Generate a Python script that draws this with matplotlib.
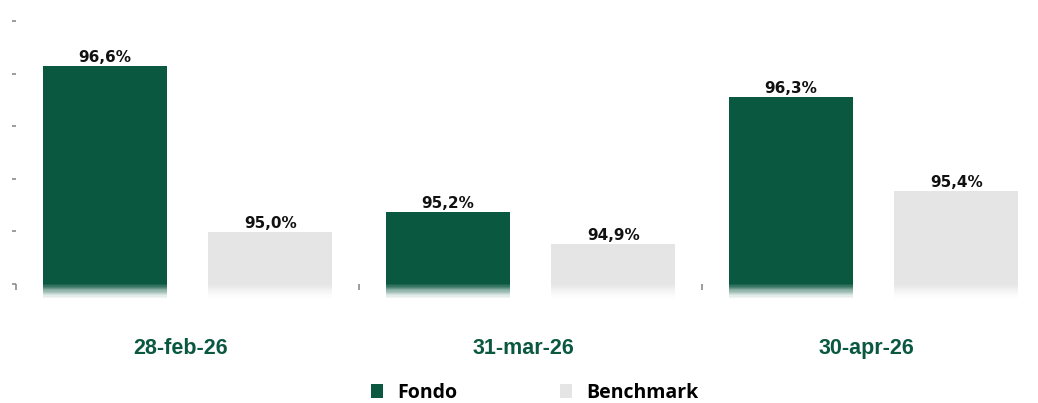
import matplotlib
matplotlib.use("Agg")
import matplotlib.pyplot as plt
import numpy as np
from matplotlib.patches import Patch
from matplotlib.colors import to_rgba
from matplotlib.transforms import blended_transform_factory

# values (labels shown rounded to one decimal)
dates = ["28-feb-26", "31-mar-26", "30-apr-26"]
fondo = [96.57, 95.18, 96.28]
benchmark = [94.99, 94.88, 95.38]
series_names = ["Fondo", "Benchmark"]
y_ticks = [94.5, 95.0, 95.5, 96.0, 96.5, 97.0]

GREEN = "#0B5840"
GREY = "#E5E5E5"
TICK = "#8C8C8C"

W, H = 1038, 403
fig = plt.figure(figsize=(W / 100, H / 100), dpi=100)
left, right, top, bottom = 16, 1045, 21, 284
ax = fig.add_axes([left / W, 1 - bottom / H, (right - left) / W, (bottom - top) / H])

x = np.arange(len(dates))
offset, width = 0.241, 0.363
ymin, ymax = 94.5, 97.0
fade = 15 / (bottom - top) * (ymax - ymin)
n_steps = 12

for vals, dx, col in [(fondo, -offset, GREEN), (benchmark, offset, GREY)]:
    pos = x + dx
    ax.bar(pos, np.array(vals) - ymin, bottom=ymin, width=width, color=col,
           linewidth=0, zorder=2)
    # gradient strip under the baseline, fading to white
    step = fade / n_steps
    for k in range(n_steps):
        a = (1 - (k + 0.5) / n_steps) ** 1.4
        ax.bar(pos, step, bottom=ymin - (k + 1) * step, width=width,
               color=to_rgba(col, a), linewidth=0, clip_on=False, zorder=2)
    for xc, v in zip(pos, vals):
        ax.annotate(f"{v:.1f}%".replace(".", ","), (xc, v), xytext=(0, 3),
                    textcoords="offset points", ha="center", va="baseline",
                    fontsize=11, fontweight="bold", family="DejaVu Sans", color="#111111")

ax.set_xlim(-0.5, 2.5)
ax.set_ylim(ymin, ymax)
for s in ax.spines.values():
    s.set_visible(False)

ax.set_yticks(y_ticks)
ax.set_yticklabels([])
ax.tick_params(axis="y", length=3, width=1.2, color=TICK, direction="out")
ax.set_xticks([-0.5, 0.5, 1.5, 2.5])
ax.set_xticklabels([])
ax.tick_params(axis="x", length=4.5, width=1.2, color=TICK, direction="out")

trans = blended_transform_factory(ax.transData, ax.transAxes)
for i, d in enumerate(dates):
    ax.text(i - 0.02, -0.245, d, transform=trans, ha="center", va="center",
            fontsize=15.5, fontweight="bold", family="Liberation Sans", color=GREEN)

handles = [Patch(facecolor=GREEN, edgecolor="none"), Patch(facecolor=GREY, edgecolor="none")]
leg = fig.legend(handles, series_names, loc="center", bbox_to_anchor=(535 / W, 1 - 393 / H),
                 ncol=2, frameon=False, handlelength=0.6, handleheight=0.75,
                 handletextpad=0.75, columnspacing=5.3, borderpad=0.1,
                 prop={"family": "Open Sans", "weight": "bold", "size": 14})

fig.savefig("out.png", dpi=100)
